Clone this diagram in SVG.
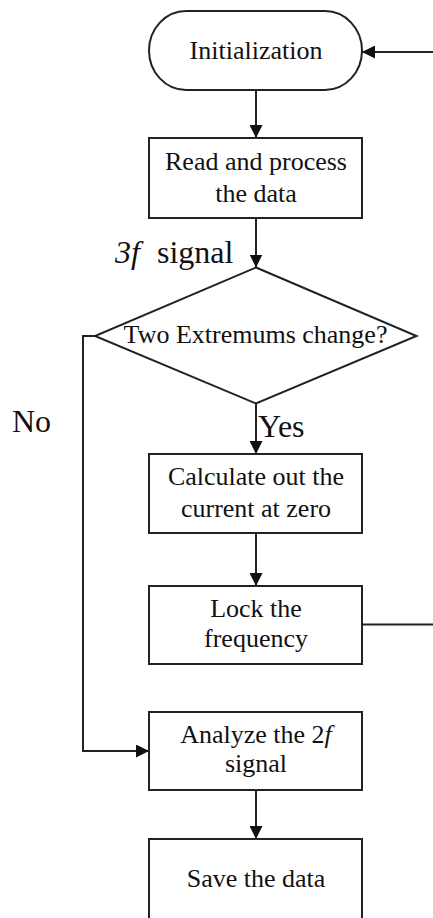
<svg xmlns="http://www.w3.org/2000/svg" width="433" height="918" viewBox="0 0 433 918">
<style>
.box{fill:#fff;stroke:#222;stroke-width:2}
.ln{fill:none;stroke:#222;stroke-width:2}
text{font-family:'Liberation Serif','DejaVu Serif',serif;fill:#111}
.t{font-size:26px;text-anchor:middle}
.lbl{font-size:32px}
.it{font-style:italic}
</style>
<defs>
<marker id="ah" markerWidth="13" markerHeight="13" refX="13" refY="6.5" orient="auto" markerUnits="userSpaceOnUse">
<path d="M0,0 L13,6.5 L0,13 Z" fill="#111"/>
</marker>
</defs>
<rect width="433" height="918" fill="#fff"/>
<g id="connectors">
<line class="ln" x1="256" y1="90" x2="256" y2="138" marker-end="url(#ah)"/>
<line class="ln" x1="256" y1="218" x2="256" y2="267.5" marker-end="url(#ah)"/>
<line class="ln" x1="256" y1="403.5" x2="256" y2="454" marker-end="url(#ah)"/>
<line class="ln" x1="256" y1="533" x2="256" y2="586" marker-end="url(#ah)"/>
<line class="ln" x1="256" y1="790" x2="256" y2="839" marker-end="url(#ah)"/>
<polyline class="ln" points="95,336 83,336 83,751 149,751" marker-end="url(#ah)"/>
<line class="ln" x1="362" y1="624.5" x2="436" y2="624.5"/>
<line class="ln" x1="436" y1="52" x2="362" y2="52" marker-end="url(#ah)"/>
</g>
<g id="n-init">
<rect class="box" x="149" y="11" width="213" height="79" rx="37" ry="39.5"/>
<text class="t" x="256" y="58.5" font-family="Liberation Serif, serif">Initialization</text>
</g>
<g id="n-read">
<rect class="box" x="149" y="138" width="213" height="80"/>
<text class="t" x="256" y="170" font-family="Liberation Serif, serif">Read and process</text>
<text class="t" x="256" y="202" font-family="Liberation Serif, serif">the data</text>
</g>
<g id="n-decision">
<polygon class="box" points="256,267.5 416.5,336 256,403.5 95,336"/>
<text class="t" x="255.5" y="343" font-family="Liberation Serif, serif">Two Extremums change?</text>
</g>
<g id="n-calc">
<rect class="box" x="149" y="454" width="213" height="79"/>
<text class="t" x="256" y="485" font-family="Liberation Serif, serif">Calculate out the</text>
<text class="t" x="256" y="517" font-family="Liberation Serif, serif">current at zero</text>
</g>
<g id="n-lock">
<rect class="box" x="149" y="586" width="213" height="78"/>
<text class="t" x="256" y="617" font-family="Liberation Serif, serif">Lock the</text>
<text class="t" x="256" y="647" font-family="Liberation Serif, serif">frequency</text>
</g>
<g id="n-analyze">
<rect class="box" x="149" y="712" width="213" height="78"/>
<text class="t" x="256" y="743" font-family="Liberation Serif, serif">Analyze the 2<tspan class="it">f</tspan></text>
<text class="t" x="256" y="772" font-family="Liberation Serif, serif">signal</text>
</g>
<g id="n-save">
<rect class="box" x="149" y="839" width="213" height="90"/>
<text class="t" x="256" y="887" font-family="Liberation Serif, serif">Save the data</text>
</g>
<g id="labels">
<text class="lbl" x="115" y="263" font-family="Liberation Serif, serif"><tspan class="it">3f</tspan><tspan x="157">signal</tspan></text>
<text class="lbl" x="258" y="437" font-family="Liberation Serif, serif">Yes</text>
<text class="lbl" x="12" y="432" font-family="Liberation Serif, serif">No</text>
</g>
</svg>
